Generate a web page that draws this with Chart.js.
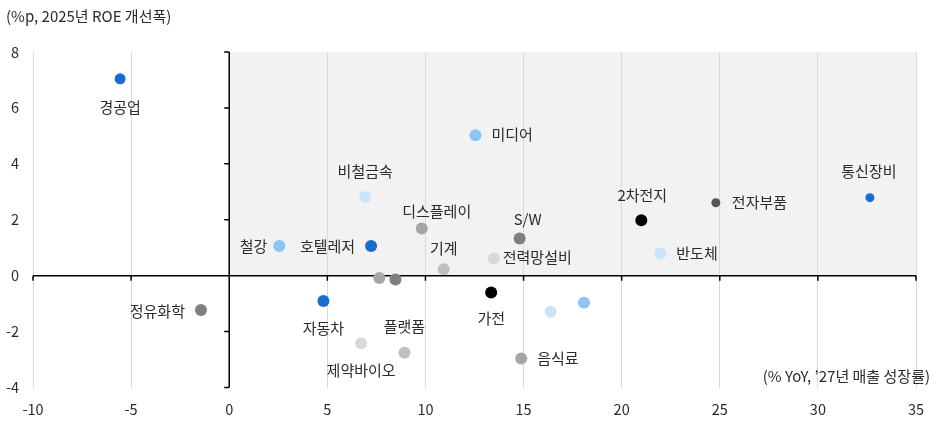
<!DOCTYPE html>
<html>
<head>
<meta charset="utf-8">
<script src="https://cdn.jsdelivr.net/npm/chart.js@4"></script>
<style>
  html, body { margin: 0; padding: 0; background: #ffffff; }
  #wrap { width: 933px; height: 435px; position: relative; }
</style>
</head>
<body>
<div id="wrap"><canvas id="c"></canvas></div>
<script>
// ---- data ----
const sectors = ['경공업','미디어','비철금속','통신장비','전자부품','2차전지','디스플레이','S/W','철강','호텔레저','반도체','전력망설비','기계','','','가전','자동차','정유화학','','','제약바이오','플랫폼','음식료'];
const salesGrowth27 = [-5.56, 12.55, 6.93, 32.65, 24.8, 21.0, 9.81, 14.8, 2.55, 7.23, 21.97, 13.48, 10.93, 7.65, 8.47, 13.35, 4.8, -1.44, 18.08, 16.38, 6.72, 8.93, 14.88];
const roeChange25 = [7.04, 5.02, 2.81, 2.79, 2.61, 1.98, 1.69, 1.33, 1.06, 1.06, 0.79, 0.61, 0.23, -0.08, -0.14, -0.6, -0.91, -1.23, -0.97, -1.29, -2.42, -2.76, -2.96];
const xTicks = [-10, -5, 0, 5, 10, 15, 20, 25, 30, 35];
const yTicks = [-4, -2, 0, 2, 4, 6, 8];
const chartTitle = '(%p, 2025년 ROE 개선폭)';
const xAxisTitle = '(% YoY, ’27년 매출 성장률)';

// ---- styles ----
const BLUE = '#1a6bd0', LBLUE = '#8cc4f5', VLBLUE = '#cce4fa', BLACK = '#000000',
      DGRAY = '#555555', GRAY = '#7f7f7f', MGRAY = '#a6a6a6', LGRAY = '#bfbfbf', VLGRAY = '#d9d9d9';
const pointColors = [BLUE, LBLUE, VLBLUE, BLUE, DGRAY, BLACK, MGRAY, GRAY, LBLUE, BLUE, VLBLUE, VLGRAY, LGRAY, MGRAY, GRAY, BLACK, BLUE, GRAY, LBLUE, VLBLUE, VLGRAY, LGRAY, MGRAY];
const pointSizes = [5.5, 6, 6, 4.5, 4.5, 6, 6, 6, 6, 6, 6, 6, 6, 6, 6, 6, 6, 6, 6, 6, 6, 6, 6];
// label placement: [dx, dy, align]
const labelPlacement = [
  [0, 28, 'center'], [16, -1, 'left'], [0, -26, 'center'], [-1, -26, 'center'], [16, 0, 'left'],
  [1, -25, 'center'], [15, -17, 'center'], [8, -19, 'center'], [-12, 0, 'right'], [-16, 0, 'right'],
  [16, 0, 'left'], [9, -1, 'left'], [0, -21, 'center'], [0, 0, 'center'], [0, 0, 'center'],
  [0, 26, 'center'], [0, 27, 'center'], [-16, 1, 'right'], [0, 0, 'center'], [0, 0, 'center'],
  [0, 27, 'center'], [0, -27, 'center'], [16, 0, 'left']
];
const FONT = "'Noto Sans CJK KR', 'Noto Sans', sans-serif";
const TEXT = '#2b2b2b';

const points = salesGrowth27.map((x, i) => ({ x: x, y: roeChange25[i] }));

const decorPlugin = {
  id: 'decor',
  beforeDraw(chart) {
    const { ctx, scales: { x, y } } = chart;
    ctx.save();
    ctx.fillStyle = '#f2f2f2';
    const x0 = x.getPixelForValue(0), x1 = x.getPixelForValue(xTicks[xTicks.length - 1]);
    const y0 = y.getPixelForValue(0), y1 = y.getPixelForValue(yTicks[yTicks.length - 1]);
    ctx.fillRect(x0, y1, x1 - x0, y0 - y1);
    ctx.restore();
  },
  beforeDatasetsDraw(chart) {
    const { ctx, scales: { x, y } } = chart;
    const x0 = x.getPixelForValue(0), y0 = y.getPixelForValue(0);
    ctx.save();
    ctx.strokeStyle = '#000000';
    ctx.lineWidth = 1.5;
    ctx.beginPath();
    ctx.moveTo(x.getPixelForValue(xTicks[0]), y0);
    ctx.lineTo(x.getPixelForValue(xTicks[xTicks.length - 1]), y0);
    ctx.moveTo(x0, y.getPixelForValue(yTicks[0]));
    ctx.lineTo(x0, y.getPixelForValue(yTicks[yTicks.length - 1]));
    xTicks.forEach(v => {
      const px = x.getPixelForValue(v);
      ctx.moveTo(px, y0); ctx.lineTo(px, y0 + 5);
    });
    yTicks.forEach(v => {
      const py = y.getPixelForValue(v);
      ctx.moveTo(x0, py); ctx.lineTo(x0 - 5, py);
    });
    ctx.stroke();
    ctx.restore();
  },
  afterDatasetsDraw(chart) {
    const { ctx, scales: { x, y } } = chart;
    ctx.save();
    ctx.font = '15px ' + FONT;
    ctx.fillStyle = TEXT;
    ctx.textBaseline = 'middle';
    const meta = chart.getDatasetMeta(0);
    meta.data.forEach((el, i) => {
      const name = sectors[i];
      if (!name) return;
      const p = labelPlacement[i];
      ctx.textAlign = p[2];
      ctx.fillText(name, el.x + p[0], el.y + p[1]);
    });
    ctx.textAlign = 'left';
    ctx.fillText(chartTitle, 6, 16);
    ctx.textAlign = 'right';
    ctx.fillText(xAxisTitle, chart.width - 3, y.getPixelForValue(yTicks[0]) - 11);
    ctx.restore();
  }
};

new Chart(document.getElementById('c'), {
  type: 'scatter',
  data: {
    datasets: [{
      data: points,
      pointBackgroundColor: pointColors,
      pointBorderWidth: 0,
      pointBorderColor: 'rgba(0,0,0,0)',
      pointRadius: pointSizes,
      pointHoverRadius: pointSizes
    }]
  },
  options: {
    responsive: true,
    maintainAspectRatio: false,
    devicePixelRatio: 1,
    animation: false,
    events: [],
    layout: { padding: { top: 52, right: 17, left: 0, bottom: 0 } },
    plugins: { legend: { display: false }, tooltip: { enabled: false }, title: { display: false } },
    scales: {
      x: {
        type: 'linear',
        min: xTicks[0], max: xTicks[xTicks.length - 1],
        afterBuildTicks: s => { s.ticks = xTicks.map(v => ({ value: v })); },
        afterFit: s => { s.height = 47.5; s.paddingLeft = 0; s.paddingRight = 0; },
        border: { display: false },
        grid: {
          drawTicks: false,
          lineWidth: 1,
          color: c => (c.tick && c.tick.value === 0) ? 'rgba(0,0,0,0)' : '#d9d9d9'
        },
        ticks: { padding: 13, color: TEXT, font: { family: FONT, size: 14.5 }, maxRotation: 0 }
      },
      y: {
        type: 'linear',
        min: yTicks[0], max: yTicks[yTicks.length - 1],
        afterBuildTicks: s => { s.ticks = yTicks.map(v => ({ value: v })); },
        afterFit: s => { s.width = 33; s.paddingTop = 0; s.paddingBottom = 0; },
        border: { display: false },
        grid: { display: false, drawTicks: false },
        ticks: { padding: 14, color: TEXT, font: { family: FONT, size: 14.5 } }
      }
    }
  },
  plugins: [decorPlugin]
});
</script>
</body>
</html>
